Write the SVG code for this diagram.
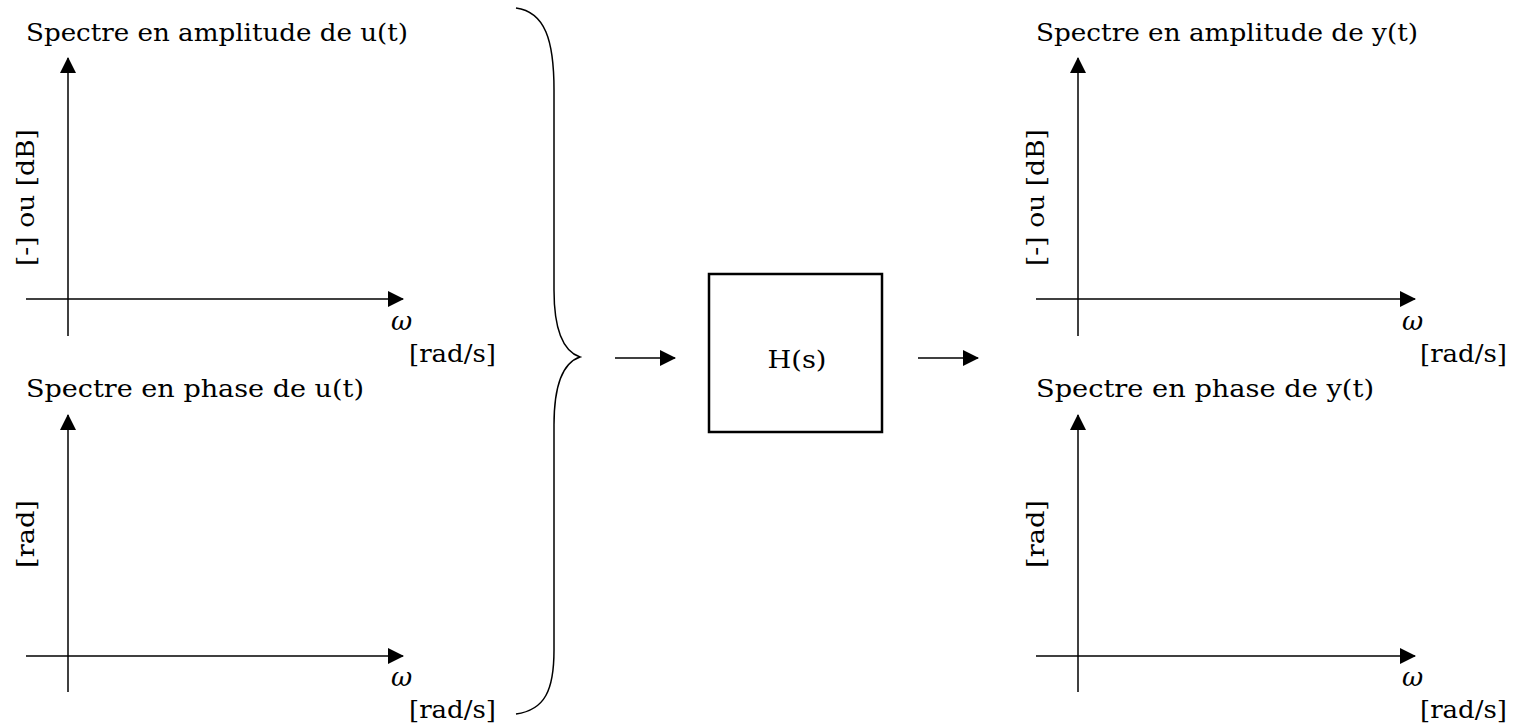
<svg xmlns="http://www.w3.org/2000/svg" width="1524" height="725" viewBox="0 0 1524 725">
<style>
.t{font-family:"DejaVu Serif","Liberation Serif",serif;font-size:25px;fill:#000}
.w{font-family:"DejaVu Serif","Liberation Serif",serif;font-size:26px;font-style:italic;fill:#000}
.ax{stroke:#000;stroke-width:1.5;fill:none}
.c{stroke:#000;stroke-width:1.5;fill:none}
</style>
<defs>
<marker id="ah" markerWidth="16" markerHeight="16" refX="15" refY="8" orient="auto" markerUnits="userSpaceOnUse">
<path d="M0,0 L16,8 L0,16 Z" fill="#000"/>
</marker>
</defs>
<g id="plot-amp-u">
<text class="t" x="26" y="41" textLength="382" lengthAdjust="spacingAndGlyphs">Spectre en amplitude de u(t)</text>
<line class="ax" x1="68" y1="336" x2="68" y2="58" marker-end="url(#ah)"/>
<line class="ax" x1="26" y1="299" x2="403" y2="299" marker-end="url(#ah)"/>
<text class="t" transform="translate(34,266) rotate(-90)" textLength="137" lengthAdjust="spacingAndGlyphs">[-] ou [dB]</text>
<text class="w" x="391" y="330">ω</text>
<text class="t" x="409" y="362" textLength="87" lengthAdjust="spacingAndGlyphs">[rad/s]</text>
</g>
<g id="plot-phase-u">
<text class="t" x="26" y="397" textLength="338" lengthAdjust="spacingAndGlyphs">Spectre en phase de u(t)</text>
<line class="ax" x1="68" y1="692" x2="68" y2="415" marker-end="url(#ah)"/>
<line class="ax" x1="26" y1="656" x2="403" y2="656" marker-end="url(#ah)"/>
<text class="t" transform="translate(34,568) rotate(-90)" textLength="68" lengthAdjust="spacingAndGlyphs">[rad]</text>
<text class="w" x="391" y="686">ω</text>
<text class="t" x="409" y="718" textLength="87" lengthAdjust="spacingAndGlyphs">[rad/s]</text>
</g>
<g id="brace">
<path class="c" d="M516,8 C545,12 554,40 554,90 L554,290 C554,335 565,352 580,357 C565,362 554,380 554,425 L554,650 C554,690 545,710 516,714"/>
</g>
<g id="block-H">
<rect x="709" y="274" width="173" height="158" fill="none" stroke="#000" stroke-width="2.5"/>
<text class="t" x="797" y="368" text-anchor="middle" textLength="59" lengthAdjust="spacingAndGlyphs">H(s)</text>
</g>
<g id="connectors">
<line class="c" x1="615" y1="358" x2="675" y2="358" marker-end="url(#ah)"/>
<line class="c" x1="918" y1="358" x2="978" y2="358" marker-end="url(#ah)"/>
</g>
<g id="plot-amp-y">
<text class="t" x="1036" y="41" textLength="382" lengthAdjust="spacingAndGlyphs">Spectre en amplitude de y(t)</text>
<line class="ax" x1="1078" y1="336" x2="1078" y2="58" marker-end="url(#ah)"/>
<line class="ax" x1="1036" y1="299" x2="1415" y2="299" marker-end="url(#ah)"/>
<text class="t" transform="translate(1044,266) rotate(-90)" textLength="137" lengthAdjust="spacingAndGlyphs">[-] ou [dB]</text>
<text class="w" x="1402" y="330">ω</text>
<text class="t" x="1420" y="362" textLength="87" lengthAdjust="spacingAndGlyphs">[rad/s]</text>
</g>
<g id="plot-phase-y">
<text class="t" x="1036" y="397" textLength="338" lengthAdjust="spacingAndGlyphs">Spectre en phase de y(t)</text>
<line class="ax" x1="1078" y1="692" x2="1078" y2="415" marker-end="url(#ah)"/>
<line class="ax" x1="1036" y1="656" x2="1415" y2="656" marker-end="url(#ah)"/>
<text class="t" transform="translate(1044,568) rotate(-90)" textLength="68" lengthAdjust="spacingAndGlyphs">[rad]</text>
<text class="w" x="1402" y="686">ω</text>
<text class="t" x="1420" y="718" textLength="87" lengthAdjust="spacingAndGlyphs">[rad/s]</text>
</g>
</svg>
